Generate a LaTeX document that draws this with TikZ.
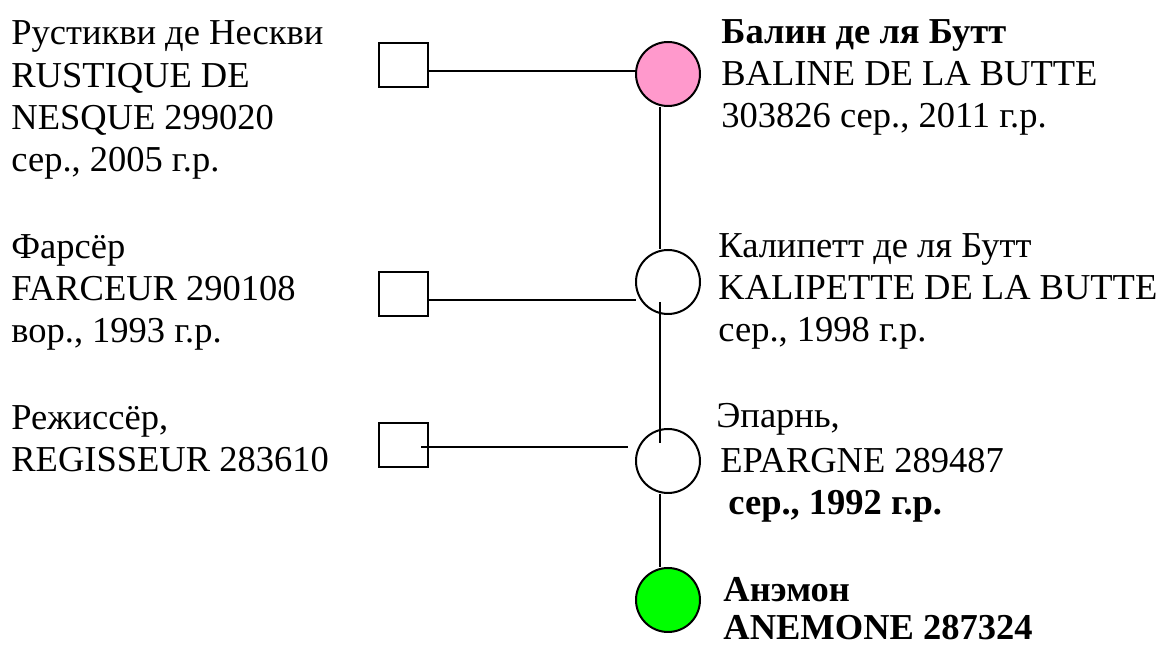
\documentclass[tikz,border=0pt]{standalone}
\usepackage{fontspec}
\setmainfont{Liberation Serif}
\usepackage{xcolor}
\usetikzlibrary{positioning,calc}
\definecolor{DamPink}{HTML}{FF99CC}
\definecolor{FoalGreen}{HTML}{00FF00}

\begin{document}
\begin{tikzpicture}[x=0.5pt,y=-0.5pt,
  sire/.style={draw,line width=1pt,minimum width=24.5pt,minimum height=22pt,inner sep=0pt},
  dam/.style={draw,circle,line width=1pt,minimum size=32pt,inner sep=0pt},
  info/.style={anchor=base west,align=left,inner sep=0pt,font=\fontsize{18.25pt}{21.2pt}\selectfont},
  link/.style={line width=1pt}]
\useasboundingbox (0,0) rectangle (1169,646);
% sires
\node[sire] (s1) at (403.5,65) {};
\node[sire] (s2) at (403.5,294) {};
\node[sire] (s3) at (403.5,445) {};
% dams and foal
\node[dam,fill=DamPink] (c1) at (668,74) {};
\node[dam] (c2) at (668,282) {};
\node[dam] (c3) at (668,461) {};
\node[dam,fill=FoalGreen] (c4) at (668,600) {};
\coordinate (j1) at (636,71);
\coordinate (j2) at (636,300);
\coordinate (j3) at (628,447);
\coordinate (v1) at (660,302);
\coordinate (v2) at (660,443);
\draw[link] (s1.east |- j1) -- (j1);
\draw[link] (s2.east |- j2) -- (j2);
\draw[link] ([xshift=-4pt]s3.east |- j3) -- (j3);
\draw[link] ([xshift=-4pt]c1.south) -- ([xshift=-4pt]c2.north);
\draw[link] (v1) -- (v2);
\draw[link] ([xshift=-4pt]c3.south) -- ([xshift=-4pt]c4.north);
% names (placed at the baseline of the last line)
\node[info] (t1) at (11,172) {Рустикви де Нескви\\RUSTIQUE DE\\NESQUE 299020\\сер., 2005 г.р.};
\node[info] (t2) at (11,343) {Фарсёр\\FARCEUR 290108\\вор., 1993 г.р.};
\node[info] (t3) at (11,472) {Режиссёр,\\REGISSEUR 283610};
\node[info] (t4) at (721,128) {\textbf{Балин де ля Бутт}\\BALINE DE LA BUTTE\\303826 сер., 2011 г.р.};
\node[info] (t5) at (718,342) {Калипетт де ля Бутт\\KALIPETTE DE LA BUTTE\\сер., 1998 г.р.};
\node[info] (t6) at (716,515) {Эпарнь,\\[1.5pt]\hspace*{2pt}EPARGNE 289487\\\hspace*{6pt}\textbf{сер., 1992 г.р.}};
\node[info] (t7) at (723,640) {\textbf{Анэмон}\\[-2pt]\textbf{ANEMONE 287324}};
\end{tikzpicture}
\end{document}
